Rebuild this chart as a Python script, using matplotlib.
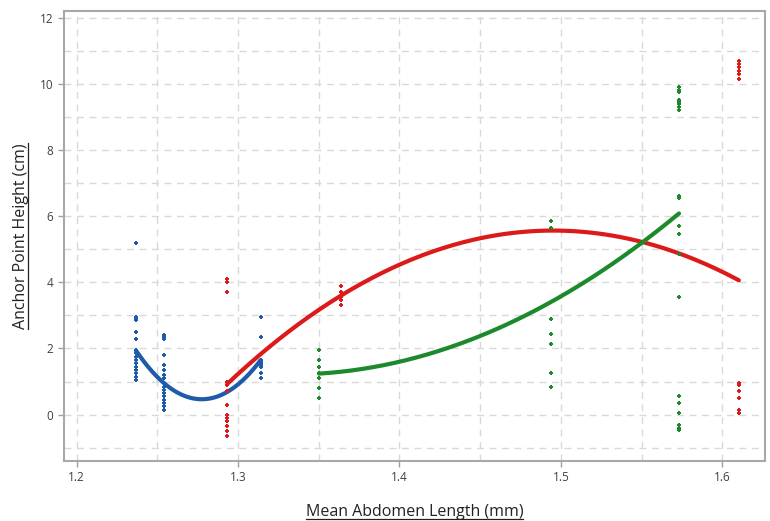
import numpy as np
import matplotlib
matplotlib.use('Agg')
import matplotlib.pyplot as plt
from matplotlib.lines import Line2D
from matplotlib.ticker import MultipleLocator

plt.rcParams['font.family'] = ['Open Sans', 'DejaVu Sans']

# scatter data
blue_x = [1.2367]*16 + [1.2541]*17 + [1.314]*9
blue_y = [5.2, 2.95, 2.9, 2.85, 2.5, 2.3, 1.95, 1.85, 1.75, 1.65, 1.55, 1.45, 1.35, 1.25, 1.15, 1.05,
          2.4, 2.35, 2.3, 1.8, 1.5, 1.35, 1.2, 1.1, 0.95, 0.85, 0.75, 0.65, 0.55, 0.45, 0.35, 0.25, 0.15,
          2.95, 2.35, 1.65, 1.6, 1.55, 1.5, 1.45, 1.25, 1.1]

red_x = [1.2933]*13 + [1.3638]*5 + [1.6103]*12
red_y = [4.1, 4.0, 3.7, 1.0, 0.9, 0.7, 0.3, 0.0, -0.1, -0.2, -0.35, -0.5, -0.65,
         3.9, 3.7, 3.55, 3.45, 3.3,
         10.7, 10.6, 10.5, 10.4, 10.3, 10.15, 0.95, 0.9, 0.7, 0.5, 0.15, 0.05]

green_x = [1.3501]*7 + [1.4937]*7 + [1.5732]*20
green_y = [1.95, 1.65, 1.45, 1.25, 1.1, 0.8, 0.5,
           5.85, 5.65, 2.9, 2.45, 2.15, 1.25, 0.85,
           9.9, 9.8, 9.75, 9.5, 9.45, 9.4, 9.3, 9.2, 6.6, 6.55, 5.7, 5.45, 4.85, 3.55,
           0.55, 0.35, 0.05, -0.3, -0.4, -0.45]

# fitted curve values at each group position
blue_fit_x = [1.2367, 1.2541, 1.314]
blue_fit_y = [1.94, 0.95, 1.65]
red_fit_x = [1.2933, 1.3638, 1.6103]
red_fit_y = [0.93, 3.6, 4.06]
green_fit_x = [1.3501, 1.4937, 1.5732]
green_fit_y = [1.24, 3.4, 6.08]

c_blue = '#1f5bab'
c_red = '#dc1a1a'
c_green = '#1c8a2c'

fig = plt.figure(figsize=(7.7, 5.21), dpi=100)
ax = fig.add_axes([0.0831, 0.1152, 0.9104, 0.8638])

for fx, fy, c in [(blue_fit_x, blue_fit_y, c_blue), (red_fit_x, red_fit_y, c_red),
                  (green_fit_x, green_fit_y, c_green)]:
    coef = np.polyfit(fx, fy, 2)
    xs = np.linspace(fx[0], fx[-1], 200)
    ax.plot(xs, np.polyval(coef, xs), color=c, lw=3.0, solid_capstyle='round', zorder=3)

ax.scatter(blue_x, blue_y, s=11, marker='P', color=c_blue, linewidths=0, zorder=4)
ax.scatter(red_x, red_y, s=11, marker='P', color=c_red, linewidths=0, zorder=4)
ax.scatter(green_x, green_y, s=11, marker='P', color=c_green, linewidths=0, zorder=4)

ax.set_xlim(1.1921, 1.6265)
ax.set_ylim(-1.4, 12.2)
ax.xaxis.set_major_locator(MultipleLocator(0.1))
ax.xaxis.set_minor_locator(MultipleLocator(0.05))
ax.yaxis.set_major_locator(MultipleLocator(2))
ax.yaxis.set_minor_locator(MultipleLocator(1))
ax.set_xticks([1.2, 1.3, 1.4, 1.5, 1.6])
ax.set_xticklabels(['1.2', '1.3', '1.4', '1.5', '1.6'])
ax.grid(which='both', color='#d9d9d9', linestyle=(0, (5, 4)), lw=1.0)
ax.set_axisbelow(True)
ax.tick_params(which='major', length=4, color='#a0a0a0', labelsize=8.5, labelcolor='#404040', width=1)
ax.tick_params(which='minor', length=0)
for s in ax.spines.values():
    s.set_color('#a8a8a8')
    s.set_linewidth(1.5)

ax.set_xlabel('Mean Abdomen Length (mm)', fontsize=11.5, color='#222222', labelpad=14)
ax.set_ylabel('Anchor Point Height (cm)', fontsize=11.5, color='#222222', labelpad=8)

# underline the axis titles
fig.canvas.draw()
inv = fig.transFigure.inverted()
bb = ax.xaxis.label.get_window_extent()
p0 = inv.transform((bb.x0, bb.y0 + 1))
p1 = inv.transform((bb.x1, bb.y0 + 1))
fig.add_artist(Line2D([p0[0], p1[0]], [p0[1], p1[1]], color='#222222', lw=0.9))
bb = ax.yaxis.label.get_window_extent()
p0 = inv.transform((bb.x1 - 1, bb.y0))
p1 = inv.transform((bb.x1 - 1, bb.y1))
fig.add_artist(Line2D([p0[0], p1[0]], [p0[1], p1[1]], color='#222222', lw=0.9))

fig.savefig('out.png', dpi=100)
